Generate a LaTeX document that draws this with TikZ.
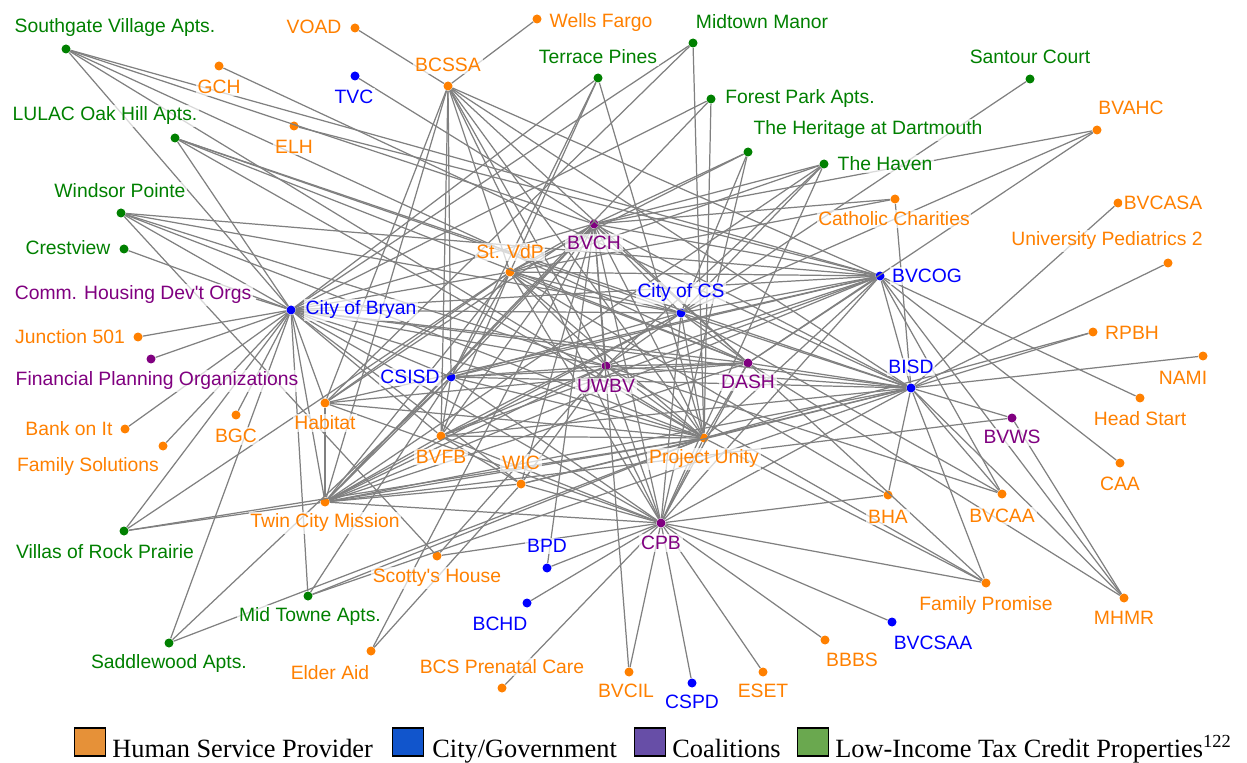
\documentclass[tikz,border=0pt]{standalone}
\usepackage{fontspec}
\setmainfont{Liberation Serif}
\newfontfamily\netfont{Liberation Sans}
\definecolor{hspdot}{RGB}{255,128,0}
\definecolor{govdot}{RGB}{0,0,255}
\definecolor{coaldot}{RGB}{128,0,128}
\definecolor{litcdot}{RGB}{0,128,0}
\definecolor{hspkey}{RGB}{230,145,56}
\definecolor{govkey}{RGB}{17,85,204}
\definecolor{coalkey}{RGB}{103,78,167}
\definecolor{litckey}{RGB}{106,168,79}

\begin{document}
\begin{tikzpicture}[x=0.02cm, y=-0.02cm,
		orgdot/.style={circle, inner sep=0pt, minimum size=1.8mm},
		hsp/.style={orgdot, fill=hspdot},
		gov/.style={orgdot, fill=govdot},
		coal/.style={orgdot, fill=coaldot},
		litc/.style={orgdot, fill=litcdot},
		lbl/.style={font=\netfont\fontsize{11}{13}\selectfont, inner sep=1pt, fill=white, fill opacity=0.7, text opacity=1},
		hspl/.style={lbl, text=hspdot},
		govl/.style={lbl, text=govdot},
		coall/.style={lbl, text=coaldot},
		litcl/.style={lbl, text=litcdot},
		link/.style={draw=black!50, line width=0.7pt},
		keybox/.style={draw=black, line width=1pt, minimum width=0.62cm, minimum height=0.56cm, inner sep=0pt},
		keytext/.style={font=\fontsize{15}{18}\selectfont, anchor=base west, inner sep=0pt}]
	\useasboundingbox (0,0) rectangle (1247,763);

	% tax credit properties
	\node[litc] (sva) at (66,49) {};
	\node[litc] (lulac) at (175,138) {};
	\node[litc] (wp) at (121,213) {};
	\node[litc] (crest) at (124,249) {};
	\node[litc] (vrp) at (124,531) {};
	\node[litc] (sadd) at (169,643) {};
	\node[litc] (mta) at (308,596) {};
	\node[litc] (tp) at (598,78) {};
	\node[litc] (mm) at (693,43) {};
	\node[litc] (fpa) at (711,99) {};
	\node[litc] (hd) at (748,152) {};
	\node[litc] (haven) at (824,164) {};
	\node[litc] (santour) at (1030,79) {};

	% human service providers
	\node[hsp] (voad) at (355,28) {};
	\node[hsp] (wf) at (537,19) {};
	\node[hsp] (gch) at (219,66) {};
	\node[hsp] (bcssa) at (448,86) {};
	\node[hsp] (elh) at (294,126) {};
	\node[hsp] (bvahc) at (1097,130) {};
	\node[hsp] (cc) at (895,199) {};
	\node[hsp] (bvcasa) at (1118,203) {};
	\node[hsp] (up2) at (1168,263) {};
	\node[hsp] (stvdp) at (510,272) {};
	\node[hsp] (j501) at (138,337) {};
	\node[hsp] (rpbh) at (1093,332) {};
	\node[hsp] (nami) at (1203,356) {};
	\node[hsp] (habitat) at (325,403) {};
	\node[hsp] (hs) at (1140,398) {};
	\node[hsp] (bankonit) at (125,429) {};
	\node[hsp] (bgc) at (236,415) {};
	\node[hsp] (famsol) at (163,446) {};
	\node[hsp] (bvfb) at (441,436) {};
	\node[hsp] (pu) at (704,438) {};
	\node[hsp] (caa) at (1120,463) {};
	\node[hsp] (wic) at (521,484) {};
	\node[hsp] (bha) at (888,495) {};
	\node[hsp] (bvcaa) at (1002,494) {};
	\node[hsp] (tcm) at (325,502) {};
	\node[hsp] (scotty) at (437,556) {};
	\node[hsp] (fp) at (986,583) {};
	\node[hsp] (mhmr) at (1124,598) {};
	\node[hsp] (elder) at (371,651) {};
	\node[hsp] (bbbs) at (825,640) {};
	\node[hsp] (bcspc) at (502,688) {};
	\node[hsp] (bvcil) at (629,672) {};
	\node[hsp] (eset) at (763,672) {};

	% city / government
	\node[gov] (tvc) at (355,76) {};
	\node[gov] (cob) at (291,310) {};
	\node[gov] (cocs) at (681,313) {};
	\node[gov] (bvcog) at (880,276) {};
	\node[gov] (csisd) at (451,377) {};
	\node[gov] (bisd) at (911,388) {};
	\node[gov] (bpd) at (547,568) {};
	\node[gov] (bchd) at (527,603) {};
	\node[gov] (bvcsaa) at (892,622) {};
	\node[gov] (cspd) at (692,683) {};

	% coalitions
	\node[coal] (bvch) at (594,224) {};
	\coordinate (chdo) at (256,299);
	\node[coal] (fpo) at (151,359) {};
	\node[coal] (uwbv) at (606,366) {};
	\node[coal] (dash) at (748,363) {};
	\node[coal] (bvws) at (1012,418) {};
	\node[coal] (cpb) at (661,523) {};

	% links
	\foreach \t in {sva,crest,chdo,j501,fpo,bankonit,famsol,bgc,vrp,sadd,mta,lulac,wp,tp,mm,fpa,habitat,tcm,csisd,stvdp,bvch,cocs,uwbv,dash,pu,bvcog,bisd,bvfb,wic,cpb}
		\draw[link] (cob) -- (\t);
	\foreach \t in {voad,wf,csisd,habitat,uwbv,cpb,pu,dash,bvcog,bisd,stvdp,bvfb,tcm}
		\draw[link] (bcssa) -- (\t);
	\draw[link] (tvc) -- (bvch);
	\draw[link] (gch) -- (bisd);
	\draw[link] (elh) -- (bvcog);
	\draw[link] (santour) -- (cocs);
	\draw[link] (rpbh) -- (pu);
	\draw[link] (bvws) -- (tcm);
	\foreach \t in {bvch,bvcog,dash,pu} \draw[link] (sva) -- (\t);
	\foreach \t in {cocs,dash,bisd,pu} \draw[link] (lulac) -- (\t);
	\foreach \t in {cocs,bvcog,uwbv,pu,scotty} \draw[link] (wp) -- (\t);
	\foreach \t in {stvdp,tcm,pu} \draw[link] (vrp) -- (\t);
	\foreach \t in {csisd,pu} \draw[link] (sadd) -- (\t);
	\foreach \t in {csisd,pu,bisd} \draw[link] (mta) -- (\t);
	\foreach \t in {bvch,wic} \draw[link] (elder) -- (\t);
	\foreach \t in {cpb,uwbv} \draw[link] (scotty) -- (\t);
	\foreach \t in {csisd,pu,stvdp} \draw[link] (tp) -- (\t);
	\foreach \t in {habitat,pu} \draw[link] (mm) -- (\t);
	\foreach \t in {pu,tcm} \draw[link] (fpa) -- (\t);
	\foreach \t in {bvch,cocs,cpb,stvdp} \draw[link] (hd) -- (\t);
	\foreach \t in {bvch,stvdp,cocs,uwbv,cpb,tcm} \draw[link] (haven) -- (\t);
	\foreach \t in {bvch,cocs,dash} \draw[link] (bvahc) -- (\t);
	\foreach \t in {stvdp,bvch,bisd} \draw[link] (cc) -- (\t);
	\foreach \t in {bvcasa,up2,rpbh,nami,bvws,mhmr,fp,bha,bvcaa} \draw[link] (bisd) -- (\t);
	\foreach \t in {hs,caa,mhmr,bvcaa} \draw[link] (bvcog) -- (\t);
	\foreach \t in {bvws,dash} \draw[link] (mhmr) -- (\t);
	\foreach \t in {cpb,dash,uwbv,pu} \draw[link] (fp) -- (\t);
	\foreach \t in {cpb,stvdp} \draw[link] (bha) -- (\t);
	\foreach \t in {cocs,uwbv} \draw[link] (bvcaa) -- (\t);
	\foreach \t in {bvcsaa,bbbs,eset,cspd,bvcil,bcspc,bchd,bpd} \draw[link] (cpb) -- (\t);
	% the middle
	\foreach \t in {bvcil,bpd,stvdp,csisd,uwbv,dash,pu,cpb,bvcog,bisd,cocs,tcm,bvfb,habitat,wic}
		\draw[link] (bvch) -- (\t);
	\foreach \t in {cocs,uwbv,pu,cpb,bvcog,csisd,bvfb,tcm,habitat,dash}
		\draw[link] (stvdp) -- (\t);
	\foreach \t in {bvcog,csisd,uwbv,dash,pu,cpb,tcm,bvfb,bisd}
		\draw[link] (cocs) -- (\t);
	\foreach \t in {csisd,uwbv,dash,pu,cpb,tcm,bisd,bvfb,habitat}
		\draw[link] (bvcog) -- (\t);
	\foreach \t in {uwbv,dash,pu,cpb,bvfb,tcm,bisd} \draw[link] (csisd) -- (\t);
	\foreach \t in {uwbv,dash,pu,cpb,tcm,wic,bvfb} \draw[link] (bisd) -- (\t);
	\foreach \t in {dash,pu,cpb,tcm,bvfb,wic} \draw[link] (uwbv) -- (\t);
	\foreach \t in {pu,cpb,tcm,habitat} \draw[link] (dash) -- (\t);
	\foreach \t in {cpb,tcm,bvfb,wic,habitat} \draw[link] (pu) -- (\t);
	\foreach \t in {tcm,bvfb,wic,habitat} \draw[link] (cpb) -- (\t);
	\foreach \t in {bvfb,wic,habitat} \draw[link] (tcm) -- (\t);
	\draw[link] (wic) -- (bvfb);

	% labels
	\node[litcl] (sva-t) at (115,28) {Southgate Village Apts.};
	\node[litcl] (lulac-t) at (105,116) {LULAC Oak Hill Apts.};
	\node[litcl] (wp-t) at (120,191) {Windsor Pointe};
	\node[litcl] (crest-t) at (68,248) {Crestview};
	\node[litcl] (vrp-t) at (105,552) {Villas of Rock Prairie};
	\node[litcl] (sadd-t) at (169,663) {Saddlewood Apts.};
	\node[litcl] (mta-t) at (310,616) {Mid Towne Apts.};
	\node[litcl] (tp-t) at (598,57) {Terrace Pines};
	\node[litcl] (mm-t) at (762,22) {Midtown Manor};
	\node[litcl] (fpa-t) at (800,99) {Forest Park Apts.};
	\node[litcl] (hd-t) at (868,130) {The Heritage at Dartmouth};
	\node[litcl] (haven-t) at (885,164) {The Haven};
	\node[litcl] (santour-t) at (1030,57) {Santour Court};

	\node[hspl] (voad-t) at (314,27) {VOAD};
	\node[hspl] (wf-t) at (601,23) {Wells Fargo};
	\node[hspl] (gch-t) at (219,87) {GCH};
	\node[hspl] (bcssa-t) at (448,65) {BCSSA};
	\node[hspl] (elh-t) at (294,147) {ELH};
	\node[hspl] (bvahc-t) at (1131,108) {BVAHC};
	\node[hspl] (cc-t) at (894,219) {Catholic Charities};
	\node[hspl] (bvcasa-t) at (1163,203) {BVCASA};
	\node[hspl] (up2-t) at (1107,241) {University Pediatrics 2};
	\node[hspl] (stvdp-t) at (510,252) {St. VdP};
	\node[hspl] (j501-t) at (70,337) {Junction 501};
	\node[hspl] (rpbh-t) at (1132,333) {RPBH};
	\node[hspl] (nami-t) at (1183,378) {NAMI};
	\node[hspl] (habitat-t) at (325,423) {Habitat};
	\node[hspl] (hs-t) at (1140,419) {Head Start};
	\node[hspl] (bankonit-t) at (69,429) {Bank on It};
	\node[hspl] (bgc-t) at (236,436) {BGC};
	\node[hspl] (famsol-t) at (88,467) {Family Solutions};
	\node[hspl] (bvfb-t) at (441,457) {BVFB};
	\node[hspl] (pu-t) at (704,459) {Project Unity};
	\node[hspl] (caa-t) at (1120,484) {CAA};
	\node[hspl] (wic-t) at (521,463) {WIC};
	\node[hspl] (bha-t) at (888,517) {BHA};
	\node[hspl] (bvcaa-t) at (1002,516) {BVCAA};
	\node[hspl] (tcm-t) at (325,523) {Twin City Mission};
	\node[hspl] (scotty-t) at (437,578) {Scotty's House};
	\node[hspl] (fp-t) at (986,605) {Family Promise};
	\node[hspl] (mhmr-t) at (1124,618) {MHMR};
	\node[hspl] (elder-t) at (330,673) {Elder Aid};
	\node[hspl] (bbbs-t) at (852,660) {BBBS};
	\node[hspl] (bcspc-t) at (502,667) {BCS Prenatal Care};
	\node[hspl] (bvcil-t) at (626,691) {BVCIL};
	\node[hspl] (eset-t) at (763,691) {ESET};

	\node[govl] (tvc-t) at (354,97) {TVC};
	\node[govl] (cob-t) at (361,310) {City of Bryan};
	\node[govl] (cocs-t) at (681,293) {City of CS};
	\node[govl] (bvcog-t) at (927,276) {BVCOG};
	\node[govl] (csisd-t) at (410,377) {CSISD};
	\node[govl] (bisd-t) at (911,367) {BISD};
	\node[govl] (bpd-t) at (547,546) {BPD};
	\node[govl] (bchd-t) at (500,624) {BCHD};
	\node[govl] (bvcsaa-t) at (933,643) {BVCSAA};
	\node[govl] (cspd-t) at (692,702) {CSPD};

	\node[coall] (bvch-t) at (594,243) {BVCH};
	\node[coall] (chdo-t) at (133,295) {Comm. Housing Dev't Orgs};
	\node[coall] (fpo-t) at (157,381) {Financial Planning Organizations};
	\node[coall] (uwbv-t) at (606,386) {UWBV};
	\node[coall] (dash-t) at (748,382) {DASH};
	\node[coall] (bvws-t) at (1012,437) {BVWS};
	\node[coall] (cpb-t) at (661,543) {CPB};

	% legend
	\node[keybox, fill=hspkey] (k1) at (90,742) {};
	\node[keytext] (k1-t) at (112,757) {Human Service Provider};
	\node[keybox, fill=govkey] (k2) at (408,742) {};
	\node[keytext] (k2-t) at (432,757) {City/Government};
	\node[keybox, fill=coalkey] (k3) at (650,742) {};
	\node[keytext] (k3-t) at (672,757) {Coalitions};
	\node[keybox, fill=litckey] (k4) at (813,742) {};
	\node[keytext] (k4-t) at (835,757) {Low-Income Tax Credit Properties\textsuperscript{122}};
\end{tikzpicture}
\end{document}
